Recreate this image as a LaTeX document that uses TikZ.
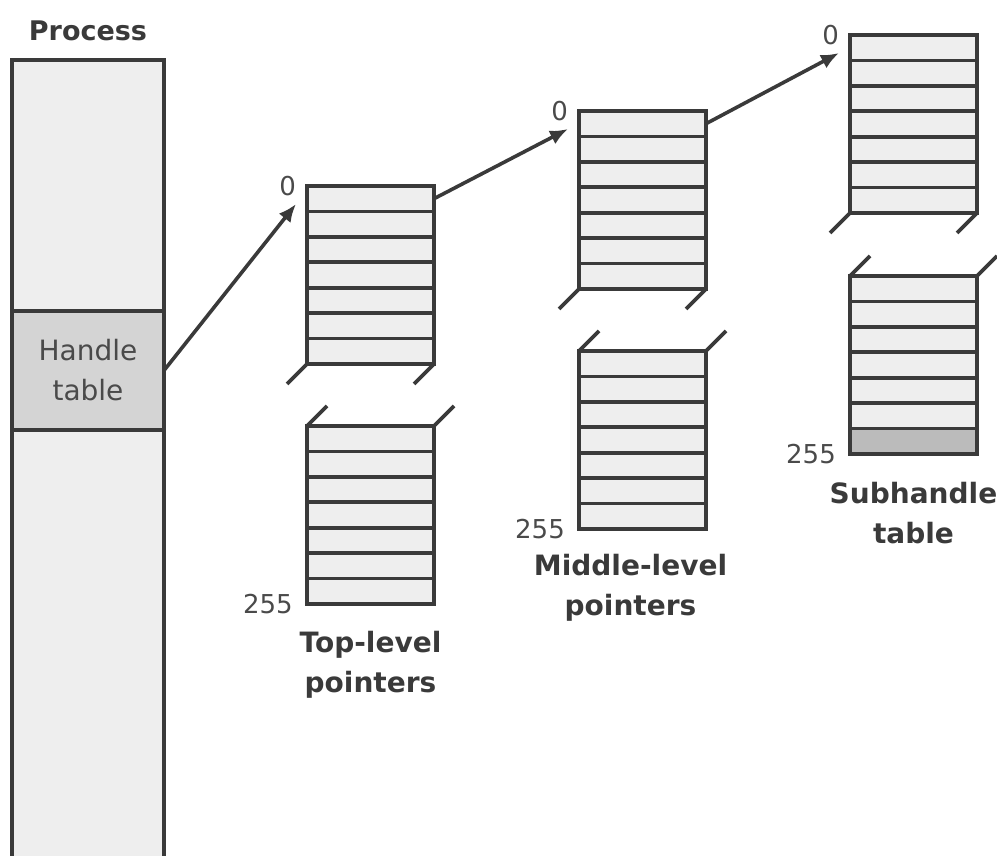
\documentclass[tikz,border=0pt]{standalone}
\usepackage{fontspec}
\setmainfont{DejaVu Sans}
\usetikzlibrary{positioning,arrows.meta}
\definecolor{inkgray}{HTML}{3A3A3A}
\definecolor{rowfill}{HTML}{EEEEEE}
\definecolor{handlefill}{HTML}{D4D4D4}
\definecolor{lastfill}{HTML}{BBBBBB}
\definecolor{numgray}{HTML}{4A4A4A}
\tikzset{
  tbl/.style={draw=inkgray,fill=rowfill,line width=3.6pt,anchor=north west,
    minimum width=127pt,minimum height=178pt,inner sep=0pt,outer sep=0pt},
  brk/.style={draw=inkgray,line width=3.6pt},
  ptr/.style={draw=inkgray,line width=3.6pt,-{Latex[length=18pt,width=15pt]}},
  idx/.style={text=numgray,font=\fontsize{26}{30}\selectfont,inner sep=0pt},
  tblcap/.style={text=inkgray,font=\bfseries\fontsize{28}{40}\selectfont,align=center,inner sep=0pt}
}
% six row lines inside a table of seven entries
\newcommand{\tblrows}[1]{\foreach \k in {1,...,6} {\draw[brk] ([yshift=-\k*178pt/7]#1.north west) -- ([yshift=-\k*178pt/7]#1.north east);}}
% cut marks: below an upper part, above a lower part
\newcommand{\cutbelow}[1]{\draw[brk] (#1.south west) -- ++(-20,20); \draw[brk] (#1.south east) -- ++(-20,20);}
\newcommand{\cutabove}[1]{\draw[brk] (#1.north west) -- ++(20,-20); \draw[brk] (#1.north east) -- ++(20,-20);}
\begin{document}
\begin{tikzpicture}[x=1pt,y=-1pt]
\useasboundingbox (0,0) rectangle (997,856);
\clip (0,0) rectangle (997,856);
% process column
\node[tbl,minimum width=152pt,minimum height=810pt] (process) at (12,60) {};
\node[tblcap,font=\bfseries\fontsize{27}{30}\selectfont,anchor=base] (proctitle) at ([yshift=19pt]process.north) {Process};
\node[tbl,fill=handlefill,minimum width=152pt,minimum height=119pt,align=center,
  text=numgray,font=\fontsize{28}{40}\selectfont] (handle) at (12,311) {Handle\\table};
% top-level pointers
\node[tbl] (toptbl) at (307,186) {};
\tblrows{toptbl}
\cutbelow{toptbl}
\node[tbl] (toplow) at (307,426) {};
\tblrows{toplow}
\cutabove{toplow}
% middle-level pointers
\node[tbl] (midtbl) at (579,111) {};
\tblrows{midtbl}
\cutbelow{midtbl}
\node[tbl] (midlow) at (579,351) {};
\tblrows{midlow}
\cutabove{midlow}
% subhandle table
\node[tbl] (subtbl) at (850,35) {};
\tblrows{subtbl}
\cutbelow{subtbl}
\node[tbl] (sublow) at (850,276) {};
\draw[brk,fill=lastfill] ([yshift=178pt/7]sublow.south west) rectangle (sublow.south east);
\tblrows{sublow}
\cutabove{sublow}
% index labels
\node[idx,anchor=east] (topzero) at ([xshift=-11pt]toptbl.north west) {0};
\node[idx,anchor=east] (midzero) at ([xshift=-11pt]midtbl.north west) {0};
\node[idx,anchor=east] (subzero) at ([xshift=-11pt]subtbl.north west) {0};
\node[idx,anchor=east] (toplast) at ([xshift=-14pt]toplow.south west) {255};
\node[idx,anchor=east] (midlast) at ([xshift=-14pt]midlow.south west) {255};
\node[idx,anchor=east] (sublast) at ([xshift=-14pt]sublow.south west) {255};
% captions
\node[tblcap,below=27pt of toplow.south] (topcap) {Top-level\\pointers};
\node[tblcap,below=25pt of midlow.south,xshift=-12pt] (midcap) {Middle-level\\pointers};
\node[tblcap,below=28pt of sublow.south] (subcap) {Subhandle\\table};
% pointers
\coordinate (topin) at ([xshift=-11pt,yshift=-18pt]toptbl.north west);
\coordinate (midin) at ([xshift=-11pt,yshift=-18pt]midtbl.north west);
\coordinate (subin) at ([xshift=-11pt,yshift=-18pt]subtbl.north west);
\coordinate (topout) at ([yshift=-12.7pt]toptbl.north east);
\coordinate (midout) at ([yshift=-12.7pt]midtbl.north east);
\draw[ptr] (handle.east) -- (topin);
\draw[ptr] (topout) -- (midin);
\draw[ptr] (midout) -- (subin);
\end{tikzpicture}
\end{document}
